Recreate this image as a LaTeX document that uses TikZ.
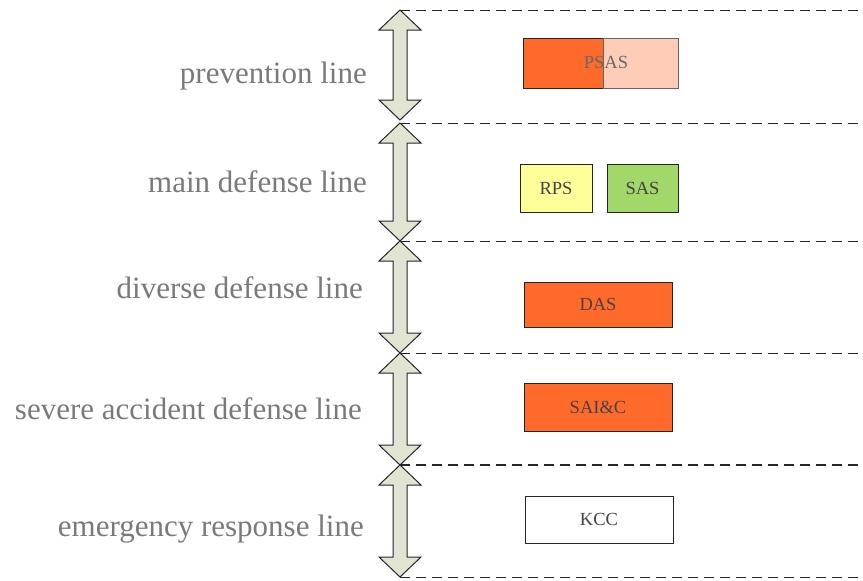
\documentclass[tikz,border=0pt]{standalone}
\usepackage{fontspec}
\setmainfont{Liberation Serif}
\definecolor{orangebox}{HTML}{FF6A2B}
\definecolor{pinkbox}{HTML}{FFCCB8}
\definecolor{yellowbox}{HTML}{FFFF99}
\definecolor{greenbox}{HTML}{A2D86A}
\definecolor{arrowfill}{HTML}{E1E4D3}
\definecolor{labelgray}{HTML}{7A7A7A}
\definecolor{textgray}{HTML}{444444}
\tikzset{
  lbl/.style={anchor=east, text=labelgray, font=\fontsize{31}{34}\selectfont, inner sep=0pt},
  sysbox/.style={draw=black!85, line width=0.9pt, minimum width=148pt, minimum height=47pt,
    font=\fontsize{18.5}{20}\selectfont, text=textgray, inner sep=0pt},
  smallbox/.style={sysbox, minimum width=72pt, minimum height=48pt},
  sepline/.style={dash pattern=on 10pt off 6pt, line width=0.9pt, draw=black!85},
  shaft/.style={draw=black!85, fill=arrowfill, line width=1pt, line join=miter}
}
% vertical double arrow: name, top y, bottom y
\newcommand\linearrow[3]{%
  \coordinate (#1-t) at (400,#2);
  \coordinate (#1-b) at (400,#3);
  \draw[shaft] (#1-t) -- (421,#2+20) -- (407,#2+20) -- (407,#3-20) -- (421,#3-20)
    -- (#1-b) -- (379,#3-20) -- (393,#3-20) -- (393,#2+20) -- (379,#2+20) -- cycle;
}
\begin{document}
\begin{tikzpicture}[x=1pt,y=-1pt]
\useasboundingbox (0,0) rectangle (863,581);

% defense line arrows
\linearrow{a1}{10}{120}
\linearrow{a2}{123}{241}
\linearrow{a3}{241}{353}
\linearrow{a4}{353}{465}
\linearrow{a5}{465}{577}

% right ends of the separators
\coordinate (r0) at (863,10);
\coordinate (r1) at (863,123);
\coordinate (r2) at (863,241);
\coordinate (r3) at (863,353);
\coordinate (r4) at (863,465);
\coordinate (r5) at (863,577);

\draw[sepline] (a1-t) -- (r0);
\draw[sepline] (a2-t) -- (r1);
\draw[sepline] (a3-t) -- (r2);
\draw[sepline] (a4-t) -- (r3);
\draw[sepline, line width=1.3pt] (a5-t) -- (r4);
\draw[sepline] (a5-b) -- (r5);

% line labels
\node[lbl] (l1) at (367,76) {prevention line};
\node[lbl] (l2) at (367,182) {main defense line};
\node[lbl] (l3) at (363,288) {diverse defense line};
\node[lbl] (l4) at (362,409) {severe accident defense line};
\node[lbl] (l5) at (364,529) {emergency response line};

% systems
\node[draw=black!85, line width=0.9pt, fill=orangebox, minimum width=80pt, minimum height=50pt, inner sep=0pt] (psasA) at (563,63) {};
\node[draw=black!60, line width=0.9pt, fill=pinkbox, minimum width=75pt, minimum height=50pt, inner sep=0pt] (psasB) at (640.5,63.5) {};
\node[text=textgray!80, font=\fontsize{18.5}{20}\selectfont, inner sep=0pt] (psas) at (606,62) {PSAS};

\node[smallbox, fill=yellowbox] (rps) at (556,188) {RPS};
\node[smallbox, fill=greenbox, minimum width=71pt] (sas) at (642.5,188) {SAS};
\node[sysbox, fill=orangebox, minimum height=45pt] (das) at (598,304.5) {DAS};
\node[sysbox, fill=orangebox, minimum height=48pt] (saic) at (598,407) {SAI\&C};
\node[sysbox, fill=white] (kcc) at (599,519.5) {KCC};
\end{tikzpicture}
\end{document}
